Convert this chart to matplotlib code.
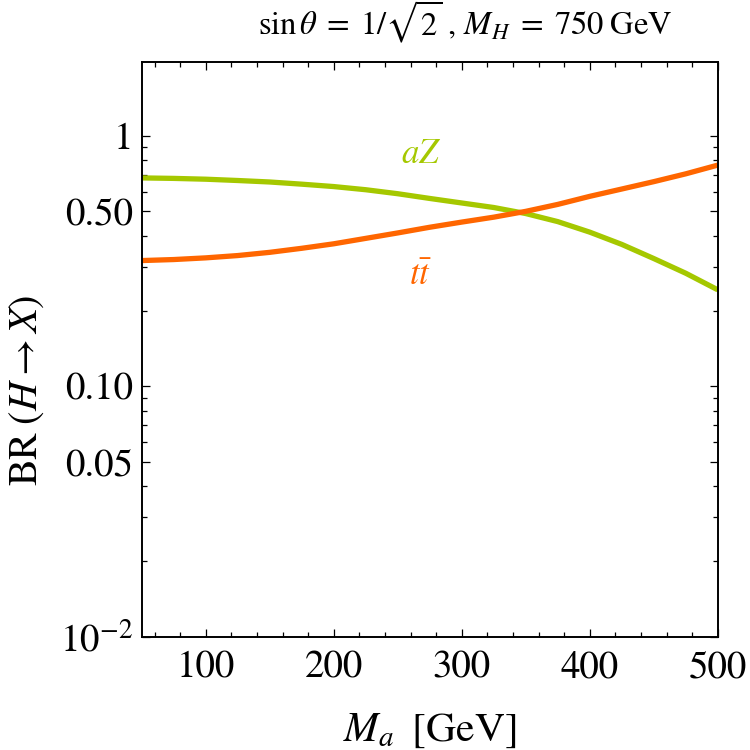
import numpy as np
import matplotlib
matplotlib.use("Agg")
import matplotlib.pyplot as plt
from matplotlib.ticker import FixedLocator, FixedFormatter

plt.rcParams['font.family'] = ['STIXGeneral', 'DejaVu Serif']
plt.rcParams['mathtext.fontset'] = 'stix'

# pseudoscalar mass [GeV]
m_a = [50, 75, 100, 125, 150, 175, 200, 225, 250, 275, 300,
       325, 350, 375, 400, 425, 450, 475, 500]
# branching ratios
br_aZ = [0.680, 0.677, 0.672, 0.664, 0.655, 0.642, 0.628, 0.610, 0.588, 0.563,
         0.540, 0.518, 0.490, 0.455, 0.413, 0.369, 0.324, 0.283, 0.243]
br_tt = [0.318, 0.321, 0.326, 0.333, 0.343, 0.356, 0.371, 0.390, 0.410, 0.432,
         0.453, 0.474, 0.500, 0.533, 0.574, 0.614, 0.657, 0.706, 0.765]

y_ticks = [0.01, 0.05, 0.1, 0.5, 1]
y_labels = [r'$10^{-2}$', '0.05', '0.10', '0.50', '1']
x_ticks = [100, 200, 300, 400, 500]

green = '#a5c800'
orange = '#ff6600'

fig = plt.figure(figsize=(7.5, 7.5), dpi=100)
ax = fig.add_axes([0.189, 0.151, 0.768, 0.766])

ax.plot(m_a, br_aZ, color=green, lw=3.8, solid_capstyle='butt')
ax.plot(m_a, br_tt, color=orange, lw=3.8, solid_capstyle='butt')

ax.set_yscale('log')
ax.set_xlim(50, 500)
ax.set_ylim(0.01, 1.97)

# ticks, Mathematica style (inward, all sides)
ax.xaxis.set_major_locator(FixedLocator(x_ticks))
ax.xaxis.set_minor_locator(FixedLocator([v for v in range(60, 500, 20) if v % 100 != 0]))
ax.yaxis.set_major_locator(FixedLocator(y_ticks))
ax.yaxis.set_major_formatter(FixedFormatter(y_labels))
minor_y = [k * 10.0**e for e in (-2, -1, 0) for k in range(2, 10)
           if k * 10.0**e not in (0.05, 0.5) and k * 10.0**e < 1.97]
ax.yaxis.set_minor_locator(FixedLocator(minor_y))
ax.yaxis.set_minor_formatter(FixedFormatter([]))
ax.tick_params(which='both', direction='in', top=True, right=True,
               labelsize=28, width=0.9)
ax.tick_params(axis='x', pad=10)
ax.tick_params(axis='y', pad=6)
ax.tick_params(which='major', length=6)
ax.tick_params(which='minor', length=3.5)
for s in ax.spines.values():
    s.set_linewidth(1.4)

ax.text(268, 0.84, r'$aZ$', color=green, fontsize=25, ha='center', va='center')
ax.text(268, 0.274, r'$t\bar{t}$', color=orange, fontsize=25, ha='center', va='center')

ax.set_xlabel(r'$M_a\;\;[\mathrm{GeV}]$', fontsize=30)
ax.xaxis.set_label_coords(0.5, -0.13)
ax.set_ylabel(r'$\mathrm{BR}\;(H\rightarrow X)$', fontsize=29)
ax.yaxis.set_label_coords(-0.167, 0.428)
fig.text(0.62, 0.97, r'$\sin\theta\;=\;1/\sqrt{2}\;,\,M_H\;=\;750\;\mathrm{GeV}$',
         fontsize=23.5, ha='center', va='center')

fig.savefig('out.png', dpi=100)
